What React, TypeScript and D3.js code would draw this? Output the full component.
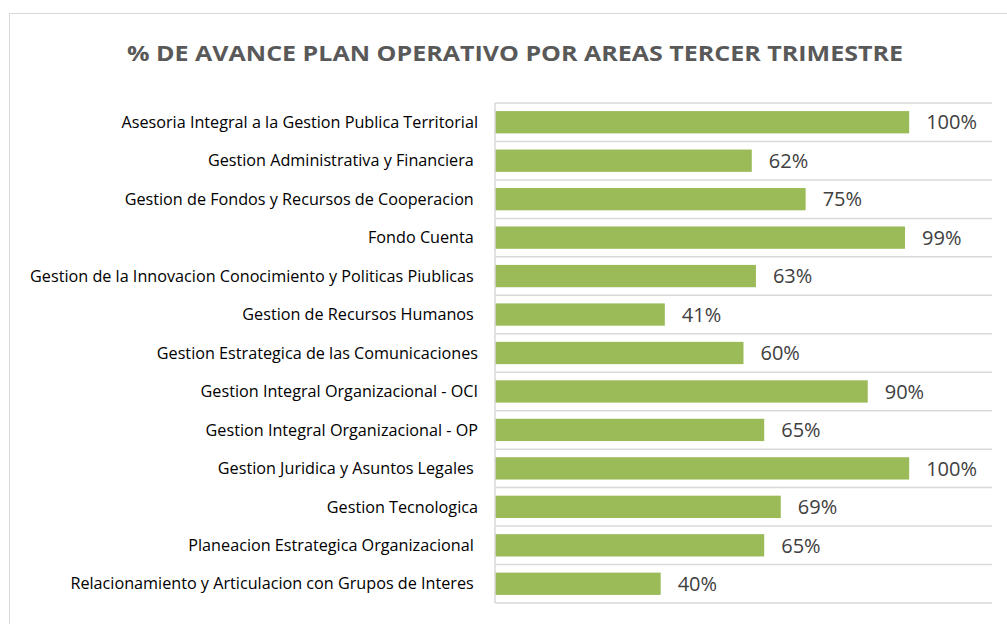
import React from "react";
import * as d3 from "d3";

const width = 1007;
const height = 624;
const margin = { top: 103, right: 15, bottom: 21, left: 495 };

const areas = [
  "Asesoria Integral a la Gestion Publica Territorial",
  "Gestion Administrativa y Financiera ",
  "Gestion de Fondos y Recursos de Cooperacion ",
  "Fondo Cuenta ",
  "Gestion de la Innovacion Conocimiento y Politicas Piublicas ",
  "Gestion de Recursos Humanos ",
  "Gestion Estrategica de las Comunicaciones",
  "Gestion Integral Organizacional - OCI",
  "Gestion Integral Organizacional - OP",
  "Gestion Juridica y Asuntos Legales ",
  "Gestion Tecnologica",
  "Planeacion Estrategica Organizacional ",
  "Relacionamiento y Articulacion con Grupos de Interes ",
];

const avance = [1.0, 0.62, 0.75, 0.99, 0.63, 0.41, 0.6, 0.9, 0.65, 1.0, 0.69, 0.65, 0.4];

const title = "% DE AVANCE PLAN OPERATIVO POR AREAS TERCER TRIMESTRE";

const font = "'Open Sans', 'Noto Sans', sans-serif";

export default function App() {
  const x = d3
    .scaleLinear()
    .domain([0, 1.2])
    .range([margin.left, width - margin.right]);

  const y = d3
    .scaleBand()
    .domain(areas)
    .range([margin.top, height - margin.bottom])
    .paddingInner(0.42)
    .paddingOuter(0.21);

  const step = y.step();
  const fmt = d3.format(".0%");

  return (
    <svg
      width={width}
      height={height}
      style={{ position: "absolute", left: 0, top: 0, background: "#fff" }}
    >
      <rect x={9.5} y={13.5} width={1010} height={620} fill="#fff" stroke="#d9d9d9" />
      <text
        x={515}
        y={61}
        textAnchor="middle"
        fontFamily={font}
        fontWeight="bold"
        fontSize={22}
        fill="#595959"
        textLength={776}
        lengthAdjust="spacingAndGlyphs"
      >
        {title}
      </text>

      {d3.range(areas.length + 1).map((i) => (
        <line
          key={"g" + i}
          x1={x(0)}
          x2={x(1.2)}
          y1={margin.top + i * step}
          y2={margin.top + i * step}
          stroke="#d9d9d9"
          strokeWidth={1.5}
        />
      ))}

      {areas.map((a, i) => (
        <g key={a}>
          <rect
            x={x(0)}
            y={y(a)}
            width={x(avance[i]) - x(0)}
            height={y.bandwidth()}
            fill="#9bbb59"
          />
          <text
            x={x(avance[i]) + 17}
            y={(y(a) as number) + y.bandwidth() / 2}
            dy="0.36em"
            fontFamily={font}
            fontSize={20}
            fill="#404040"
          >
            {fmt(avance[i])}
          </text>
          <text
            x={478}
            y={(y(a) as number) + y.bandwidth() / 2}
            dy="0.35em"
            textAnchor="end"
            fontFamily={font}
            fontSize={16.2}
            fill="#000"
            style={{ whiteSpace: "pre" }}
          >
            {a}
          </text>
        </g>
      ))}

      <line
        x1={x(0)}
        x2={x(0)}
        y1={margin.top}
        y2={height - margin.bottom}
        stroke="#d9d9d9"
        strokeWidth={1.5}
      />
    </svg>
  );
}
